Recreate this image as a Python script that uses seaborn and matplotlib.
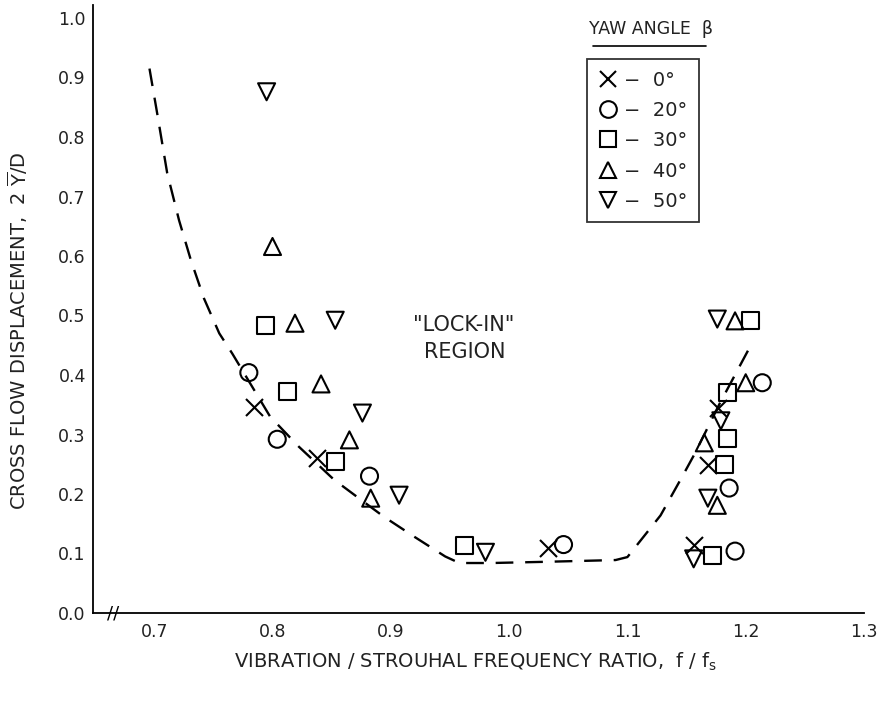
import numpy as np
import pandas as pd
import matplotlib
matplotlib.use("Agg")
import matplotlib.pyplot as plt
import seaborn as sns
from matplotlib.lines import Line2D

# ---- data ----
x_0 = [0.784, 0.838, 1.033, 1.156, 1.168, 1.177]
y_0 = [0.347, 0.260, 0.109, 0.115, 0.248, 0.344]

x_20 = [0.780, 0.804, 0.882, 1.046, 1.186, 1.191, 1.214]
y_20 = [0.404, 0.292, 0.230, 0.115, 0.210, 0.104, 0.387]

x_30 = [0.794, 0.813, 0.853, 0.962, 1.172, 1.182, 1.185, 1.185, 1.204]
y_30 = [0.484, 0.372, 0.254, 0.114, 0.097, 0.250, 0.294, 0.370, 0.491]

x_40 = [0.800, 0.819, 0.841, 0.865, 0.883, 1.165, 1.176, 1.191, 1.200]
y_40 = [0.616, 0.487, 0.385, 0.291, 0.193, 0.286, 0.181, 0.491, 0.387]

x_50 = [0.795, 0.853, 0.876, 0.907, 0.980, 1.156, 1.168, 1.179, 1.176]
y_50 = [0.876, 0.492, 0.336, 0.198, 0.102, 0.091, 0.193, 0.323, 0.494]

curve_x = [0.696, 0.703, 0.711, 0.721, 0.731, 0.742, 0.755, 0.766, 0.798, 0.822,
           0.852, 0.877, 0.894, 0.920, 0.946, 0.958, 0.985, 1.030, 1.090, 1.100,
           1.128, 1.146, 1.157, 1.178, 1.203]
curve_y = [0.915, 0.834, 0.739, 0.660, 0.593, 0.529, 0.470, 0.436, 0.330, 0.280,
           0.224, 0.187, 0.162, 0.128, 0.095, 0.084, 0.084, 0.086, 0.089, 0.094,
           0.164, 0.228, 0.268, 0.352, 0.445]

angles = ["0°", "20°", "30°", "40°", "50°"]
markers = ["x", "o", "s", "^", "v"]

x_ticks = [0.7, 0.8, 0.9, 1.0, 1.1, 1.2, 1.3]
x_ticklabels = ["0.7", "0.8", "0.9", "1.0", "1.1", "1.2", "1.3"]
y_ticks = [0.0, 0.1, 0.2, 0.3, 0.4, 0.5, 0.6, 0.7, 0.8, 0.9, 1.0]
y_ticklabels = ["0.0", "0.1", "0.2", "0.3", "0.4", "0.5", "0.6", "0.7", "0.8", "0.9", "1.0"]

groups = [(x_0, y_0), (x_20, y_20), (x_30, y_30), (x_40, y_40), (x_50, y_50)]

# ---- figure ----
sns.set_style("white")
plt.rcParams["font.family"] = ["DejaVu Sans"]

fig = plt.figure(figsize=(8.92, 7.01), dpi=100)
ax = fig.add_axes([92.7 / 892, 1 - 613 / 701, (864 - 92.7) / 892, (613 - 5) / 701])

sns.lineplot(x=curve_x, y=curve_y, sort=False, estimator=None, color="k",
             lw=1.7, ax=ax)
ax.lines[0].set_dashes([7.5, 5])

S = 150
LW = 1.5
for (gx, gy), mk in zip(groups, markers):
    if mk == "x":
        sns.scatterplot(x=gx, y=gy, marker=mk, s=S, color="k", linewidth=LW, ax=ax)
    else:
        sns.scatterplot(x=gx, y=gy, marker=mk, s=S, facecolor="none",
                        edgecolor="k", linewidth=LW, ax=ax)

ax.set_xlim(0.648, 1.3)
ax.set_ylim(0, 608 / 595)
ax.set_xticks(x_ticks)
ax.set_xticklabels(x_ticklabels)
ax.set_yticks(y_ticks)
ax.set_yticklabels(y_ticklabels)

for side in ["top", "right"]:
    ax.spines[side].set_visible(False)
for side in ["left", "bottom"]:
    ax.spines[side].set_color("k")
    ax.spines[side].set_linewidth(1.3)

ax.tick_params(axis="both", direction="in", length=14, width=1.3, color="k",
               labelsize=12.5, labelcolor="#222222")
ax.tick_params(axis="y", pad=5)
ax.tick_params(axis="x", pad=7)

ax.set_xlabel("VIBRATION / STROUHAL FREQUENCY RATIO,  f / f$_\\mathregular{s}$",
              fontsize=14, color="#222222")
ax.xaxis.set_label_coords(0.497, -0.062)
ax.set_ylabel("CROSS FLOW DISPLACEMENT,  2 $\\overline{\\mathregular{Y}}$/D",
              fontsize=14, color="#222222")
ax.yaxis.set_label_coords(-0.081, 0.465)

# axis break mark
ax.text(0.027, 0.0, "//", transform=ax.transAxes, ha="center", va="center",
        fontsize=13, color="k")

# annotation
ax.text(0.415, 0.474, "\"LOCK-IN\"", transform=ax.transAxes, ha="left", va="center",
        fontsize=15, color="#222222")
ax.text(0.43, 0.43, "REGION", transform=ax.transAxes, ha="left", va="center",
        fontsize=15, color="#222222")

# legend
handles = []
for mk in markers:
    if mk == "x":
        handles.append(Line2D([], [], marker=mk, ls="none", color="k", ms=12, mew=LW))
    else:
        handles.append(Line2D([], [], marker=mk, ls="none", mfc="none", mec="k",
                              ms=12, mew=LW))
labels = ["\u2212  " + a for a in angles]
leg = ax.legend(handles, labels, loc="upper left",
                bbox_to_anchor=((587 - 92.7) / 771.3, (613 - 59) / 608),
                frameon=True, fancybox=False, edgecolor="k", fontsize=14,
                handlelength=1.0, handletextpad=0.3, labelspacing=0.58,
                borderpad=0.6, borderaxespad=0.0)
leg.get_frame().set_linewidth(1.3)
for t in leg.get_texts():
    t.set_color("#222222")

ax.text((651 - 92.7) / 771.3, (613 - 29) / 608, "YAW ANGLE  \u03b2",
        transform=ax.transAxes, ha="center", va="center", fontsize=12.5,
        color="#222222")
ax.plot([(593 - 92.7) / 771.3, (706 - 92.7) / 771.3],
        [(613 - 46) / 608, (613 - 46) / 608], transform=ax.transAxes,
        color="k", lw=1.2, clip_on=False)

fig.savefig("out.png", dpi=100, facecolor="white")
